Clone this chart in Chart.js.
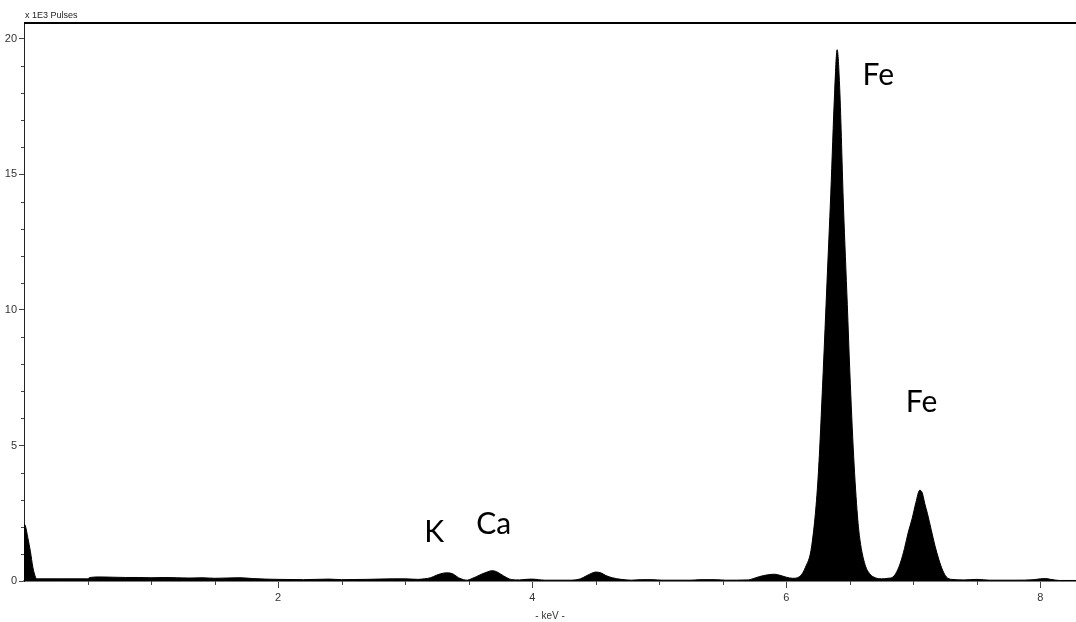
<!DOCTYPE html>
<html>
<head>
<meta charset="utf-8">
<script src="https://cdn.jsdelivr.net/npm/chart.js@4.4.1/dist/chart.umd.min.js"></script>
<style>
  html, body { margin: 0; padding: 0; background: #fff; }
  #wrap { width: 1076px; height: 622px; position: relative; }
</style>
</head>
<body>
<div id="wrap"><canvas id="spectrum"></canvas></div>
<script>
// EDX spectrum, energy in keV, counts in 1E3 pulses
const energyKeV = [
    0.00, 0.01, 0.03, 0.05, 0.07, 0.09, 0.10, 0.30, 0.50, 0.52,
    0.60, 0.70, 0.80, 0.90, 1.00, 1.10, 1.20, 1.30, 1.40, 1.50,
    1.60, 1.70, 1.80, 1.90, 2.00, 2.20, 2.40, 2.50, 2.70, 2.90,
    3.00, 3.10, 3.15, 3.20, 3.25, 3.30, 3.34, 3.38, 3.42, 3.46,
    3.49, 3.52, 3.56, 3.60, 3.65, 3.68, 3.71, 3.75, 3.80, 3.84,
    3.90, 3.95, 4.00, 4.05, 4.10, 4.30, 4.38, 4.43, 4.47, 4.50,
    4.54, 4.58, 4.63, 4.70, 4.78, 4.85, 4.95, 5.02, 5.25, 5.32,
    5.45, 5.52, 5.70, 5.76, 5.82, 5.87, 5.91, 5.95, 6.00, 6.05,
    6.10, 6.15, 6.20, 6.25, 6.29, 6.32, 6.35, 6.38, 6.40, 6.42,
    6.45, 6.48, 6.50, 6.53, 6.56, 6.58, 6.62, 6.66, 6.70, 6.75,
    6.80, 6.84, 6.87, 6.90, 6.93, 6.96, 6.99, 7.02, 7.05, 7.07,
    7.09, 7.11, 7.14, 7.17, 7.20, 7.23, 7.26, 7.30, 7.40, 7.50,
    7.60, 7.80, 7.95, 8.00, 8.04, 8.08, 8.15, 8.28
];
const pulsesK = [
    2.10, 2.05, 1.60, 1.10, 0.50, 0.15, 0.08, 0.08, 0.08, 0.13,
    0.15, 0.14, 0.13, 0.13, 0.12, 0.13, 0.12, 0.11, 0.12, 0.10,
    0.11, 0.12, 0.09, 0.07, 0.06, 0.05, 0.07, 0.05, 0.06, 0.08,
    0.08, 0.06, 0.08, 0.12, 0.22, 0.29, 0.30, 0.25, 0.12, 0.05,
    0.03, 0.08, 0.16, 0.25, 0.34, 0.38, 0.36, 0.26, 0.12, 0.05,
    0.04, 0.06, 0.07, 0.05, 0.03, 0.03, 0.08, 0.20, 0.29, 0.33,
    0.30, 0.20, 0.12, 0.06, 0.03, 0.05, 0.05, 0.03, 0.03, 0.05,
    0.05, 0.03, 0.04, 0.12, 0.20, 0.24, 0.25, 0.21, 0.14, 0.10,
    0.15, 0.50, 1.30, 3.80, 7.70, 11.0, 14.3, 18.0, 19.6, 18.2,
    13.8, 10.2, 7.70, 4.60, 2.40, 1.50, 0.60, 0.25, 0.12, 0.08,
    0.10, 0.15, 0.35, 0.70, 1.20, 1.80, 2.30, 2.90, 3.35, 3.25,
    2.85, 2.50, 1.90, 1.30, 0.80, 0.40, 0.15, 0.06, 0.04, 0.06,
    0.03, 0.03, 0.05, 0.08, 0.09, 0.06, 0.02, 0.02
];
const yMajorTicks = [0, 5, 10, 15, 20];
const xMajorTicks = [2, 4, 6, 8];
const peakLabels = ['Fe', 'Fe', 'K', 'Ca'];

const axisFont = { family: '"Liberation Sans Narrow", "Liberation Sans", Arial, sans-serif', size: 11 };

// minor ticks, top frame line, axis unit and peak names
const decorPlugin = {
    id: 'decor',
    afterDraw(chart) {
        const { ctx, chartArea, scales: { x, y } } = chart;
        ctx.save();

        ctx.strokeStyle = '#444';
        ctx.lineWidth = 1;
        ctx.beginPath();
        for (let v = 1; v <= 20; v++) {
            if (v % 5 === 0) continue;
            const py = Math.round(y.getPixelForValue(v)) + 0.5;
            ctx.moveTo(chartArea.left - 3, py);
            ctx.lineTo(chartArea.left, py);
        }
        for (let v = 0.5; v <= 8.25; v += 0.5) {
            if (v % 2 === 0) continue;
            const px = Math.round(x.getPixelForValue(v)) + 0.5;
            ctx.moveTo(px, chartArea.bottom);
            ctx.lineTo(px, chartArea.bottom + 4);
        }
        ctx.stroke();

        // top frame
        ctx.strokeStyle = '#000';
        ctx.lineWidth = 2;
        ctx.beginPath();
        ctx.moveTo(chartArea.left, chartArea.top - 1);
        ctx.lineTo(chartArea.right, chartArea.top - 1);
        ctx.stroke();

        ctx.fillStyle = '#222';
        ctx.font = '9px ' + axisFont.family;
        ctx.textBaseline = 'alphabetic';
        ctx.textAlign = 'left';
        ctx.fillText('x 1E3 Pulses', chartArea.left + 1, chartArea.top - 6);

        // peak names, anchored in keV / 1E3 pulses
        const anchors = [[6.60, 18.3], [6.94, 6.24], [3.15, 1.44], [3.56, 1.73]];
        ctx.fillStyle = '#000';
        ctx.font = '30px Lato, "Open Sans", sans-serif';
        peakLabels.forEach((txt, i) => {
            ctx.fillText(txt, x.getPixelForValue(anchors[i][0]), y.getPixelForValue(anchors[i][1]));
        });

        ctx.restore();
    }
};

const points = energyKeV.map((e, i) => ({ x: e, y: pulsesK[i] }));

new Chart(document.getElementById('spectrum'), {
    type: 'line',
    data: {
        datasets: [{
            data: points,
            borderColor: '#000',
            backgroundColor: '#000',
            borderWidth: 1,
            fill: 'origin',
            pointRadius: 0,
            cubicInterpolationMode: 'monotone'
        }]
    },
    options: {
        responsive: true,
        maintainAspectRatio: false,
        animation: false,
        devicePixelRatio: 1,
        layout: { padding: { top: 24, right: 0, left: 0, bottom: 0 } },
        plugins: { legend: { display: false }, tooltip: { enabled: false } },
        scales: {
            x: {
                type: 'linear',
                min: 0,
                max: 8.28,
                afterBuildTicks: s => { s.ticks = xMajorTicks.map(v => ({ value: v })); },
                afterFit: s => { s.height = 41; },
                ticks: { color: '#333', font: axisFont, padding: 3, maxRotation: 0 },
                grid: { drawOnChartArea: false, drawTicks: true, tickLength: 7, tickColor: '#444' },
                border: { color: '#7a7a7a', width: 2 },
                title: { display: true, text: '- keV -', color: '#333', font: { family: axisFont.family, size: 10 }, padding: { top: 0, bottom: 0 } }
            },
            y: {
                min: 0,
                max: 20.55,
                afterBuildTicks: s => { s.ticks = yMajorTicks.map(v => ({ value: v })); },
                afterFit: s => { s.width = 24; },
                ticks: { color: '#333', font: axisFont, padding: 2 },
                grid: { drawOnChartArea: false, drawTicks: true, tickLength: 5, tickColor: '#444' },
                border: { color: '#222', width: 1 }
            }
        }
    },
    plugins: [decorPlugin]
});
</script>
</body>
</html>
